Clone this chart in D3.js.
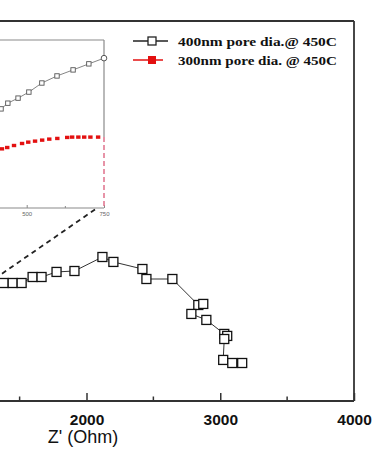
<!DOCTYPE html>
<html>
<head>
<meta charset="utf-8">
<script src="https://cdn.jsdelivr.net/npm/d3@7"></script>
<style>
  html, body { margin: 0; padding: 0; background: #fff; }
  svg { display: block; }
</style>
</head>
<body>
<div id="chart"></div>
<script>
// main Nyquist data, 400nm pore dia. (Z' vs -Z'', Ohm)
const zRe = [1381, 1448, 1515, 1597, 1664, 1776, 1910, 2119, 2201, 2418, 2448, 2642,
  2836, 2873, 2784, 2896, 3030, 3052, 3030, 3022, 3090, 3164];
const zIm = [885, 885, 885, 930, 930, 968, 975, 1080, 1043, 990, 915, 915,
  720, 728, 653, 608, 503, 488, 465, 308, 285, 285];

// inset (zoomed region)
const inRe400 = [417, 439, 472, 507, 549, 598, 650, 701, 750];
const inIm400 = [295, 312, 327, 345, 372, 393, 411, 429, 446];
const inRe300 = [420, 437, 459, 485, 505, 527, 550, 573, 599, 631, 647, 667, 686, 706, 731, 750];
const inIm300 = [176, 180, 186, 192, 196, 199, 202, 205, 207, 210, 211, 211, 211, 211, 211, 211];

// only the ticks that fall inside the visible crop
const xMajor = [2000, 3000, 4000];
const xMinor = [1500, 2500, 3500];
const inMajor = [500, 750];
const inMinor = [625];
const seriesNames = ['400nm pore dia.@ 450C', '300nm pore dia. @ 450C'];
const xTitle = "Z' (Ohm)";

const width = 373, height = 464;
const svg = d3.select('#chart').append('svg')
  .attr('width', width)
  .attr('height', height);

const x = d3.scaleLinear().domain([0, 4000]).range([-181, 354]);
const y = d3.scaleLinear().domain([0, 2850]).range([401, 21]);

const ix = d3.scaleLinear().domain([250, 750]).range([-50.6, 104]);
const iy = d3.scaleLinear().domain([0, 500]).range([208, 40]);

// frame
const frame = '#333';
svg.append('line').attr('x1', x(0)).attr('x2', x(4000)).attr('y1', y(2850)).attr('y2', y(2850))
  .attr('stroke', frame).attr('stroke-width', 1.8);
svg.append('line').attr('x1', x(4000)).attr('x2', x(4000)).attr('y1', y(2850)).attr('y2', y(0))
  .attr('stroke', frame).attr('stroke-width', 1.8);

// bottom axis
const gx = svg.append('g').attr('transform', `translate(0,${y(0)})`)
  .call(d3.axisBottom(x).tickValues(xMajor).tickSizeInner(-8).tickSizeOuter(0).tickPadding(13)
    .tickFormat(d3.format('d')));
gx.select('.domain').attr('stroke', frame).attr('stroke-width', 1.8)
  .attr('d', `M${x(0)},0H${x(4000)}`);
gx.selectAll('.tick line').attr('stroke', frame).attr('stroke-width', 1.5);
gx.selectAll('.tick text')
  .attr('font-family', 'Arial, "Liberation Sans", sans-serif')
  .attr('font-size', 15.5).attr('font-weight', 'bold').attr('fill', '#111');
gx.selectAll('.minor').data(xMinor).join('line')
  .attr('x1', d => x(d)).attr('x2', d => x(d))
  .attr('y1', 0).attr('y2', -4.5)
  .attr('stroke', frame).attr('stroke-width', 1.5);

svg.append('text')
  .attr('x', 83).attr('y', 443)
  .attr('text-anchor', 'middle')
  .attr('font-family', 'Arial, "Liberation Sans", sans-serif')
  .attr('font-size', 18)
  .attr('fill', '#111')
  .text(xTitle);

// main series
const mainPts = zRe.map((d, i) => [d, zIm[i]]);
svg.append('path').datum(mainPts)
  .attr('fill', 'none').attr('stroke', '#333').attr('stroke-width', 1)
  .attr('d', d3.line().x(d => x(d[0])).y(d => y(d[1])));
svg.selectAll('.msq').data(mainPts).join('rect')
  .attr('x', d => x(d[0]) - 4.5).attr('y', d => y(d[1]) - 4.5)
  .attr('width', 9).attr('height', 9)
  .attr('fill', '#fff').attr('stroke', '#111').attr('stroke-width', 1.3);

// inset frame
const grey = '#8a8a8a';
svg.append('line').attr('x1', ix(250)).attr('x2', ix(750)).attr('y1', iy(500)).attr('y2', iy(500))
  .attr('stroke', grey).attr('stroke-width', 1.2);
svg.append('line').attr('x1', ix(750)).attr('x2', ix(750)).attr('y1', iy(500)).attr('y2', iy(211))
  .attr('stroke', grey).attr('stroke-width', 1.2);
const gi = svg.append('g').attr('transform', `translate(0,${iy(0)})`)
  .call(d3.axisBottom(ix).tickValues(inMajor).tickSizeInner(-3).tickSizeOuter(0).tickPadding(4));
gi.select('.domain').attr('stroke', grey).attr('stroke-width', 1.2)
  .attr('d', `M${ix(250)},0H${ix(750)}`);
gi.selectAll('.tick line').attr('stroke', grey);
gi.selectAll('.tick text').attr('font-family', 'Arial, sans-serif').attr('font-size', 6).attr('fill', '#666');
gi.selectAll('.minor').data(inMinor).join('line')
  .attr('x1', d => ix(d)).attr('x2', d => ix(d))
  .attr('y1', 0).attr('y2', -2).attr('stroke', grey);

// red dashed drop line
svg.append('line').attr('x1', ix(750)).attr('x2', ix(750)).attr('y1', iy(211)).attr('y2', iy(0))
  .attr('stroke', '#e0708a').attr('stroke-width', 1.5).attr('stroke-dasharray', '5,3');

// connector from inset to main plot
svg.append('line')
  .attr('x1', ix(750) - 9).attr('y1', iy(0) + 1.5)
  .attr('x2', x(1000)).attr('y2', y(700))
  .attr('stroke', '#222').attr('stroke-width', 1.8).attr('stroke-dasharray', '5,4');

// inset 400nm
const in400 = inRe400.map((d, i) => [d, inIm400[i]]);
svg.append('path').datum(in400)
  .attr('fill', 'none').attr('stroke', '#777').attr('stroke-width', 0.9)
  .attr('d', d3.line().x(d => ix(d[0])).y(d => iy(d[1])));
svg.selectAll('.isq').data(in400.slice(0, -1)).join('rect')
  .attr('x', d => ix(d[0]) - 2.2).attr('y', d => iy(d[1]) - 2.2)
  .attr('width', 4.4).attr('height', 4.4)
  .attr('fill', '#fff').attr('stroke', '#555').attr('stroke-width', 0.9);
svg.selectAll('.icirc').data(in400.slice(-1)).join('circle')
  .attr('cx', d => ix(d[0])).attr('cy', d => iy(d[1])).attr('r', 2.8)
  .attr('fill', '#fff').attr('stroke', '#555').attr('stroke-width', 1);

// inset 300nm
const in300 = inRe300.map((d, i) => [d, inIm300[i]]);
svg.selectAll('.rsq').data(in300.slice(0, -1)).join('rect')
  .attr('x', d => ix(d[0]) - 2.2).attr('y', d => iy(d[1]) - 1.7)
  .attr('width', 4.4).attr('height', 3.4)
  .attr('fill', '#e31010');

// legend
const leg = svg.append('g');
const legY = [41, 60];
leg.append('line').attr('x1', 133).attr('x2', 168).attr('y1', legY[0]).attr('y2', legY[0])
  .attr('stroke', '#222').attr('stroke-width', 1.5);
leg.append('rect').attr('x', 148).attr('y', legY[0] - 4).attr('width', 8).attr('height', 8)
  .attr('fill', '#fff').attr('stroke', '#222').attr('stroke-width', 1.3);
leg.append('line').attr('x1', 133).attr('x2', 163).attr('y1', legY[1]).attr('y2', legY[1])
  .attr('stroke', '#e31010').attr('stroke-width', 1.5);
leg.append('rect').attr('x', 148).attr('y', legY[1] - 4).attr('width', 8).attr('height', 8)
  .attr('fill', '#e31010');
leg.selectAll('text').data(seriesNames).join('text')
  .attr('x', 178).attr('y', (d, i) => legY[i] + 4.5)
  .attr('textLength', 159).attr('lengthAdjust', 'spacingAndGlyphs')
  .attr('font-family', '"Liberation Serif", "Times New Roman", serif')
  .attr('font-weight', 'bold').attr('font-size', 13.5).attr('fill', '#111')
  .text(d => d);
</script>
</body>
</html>
